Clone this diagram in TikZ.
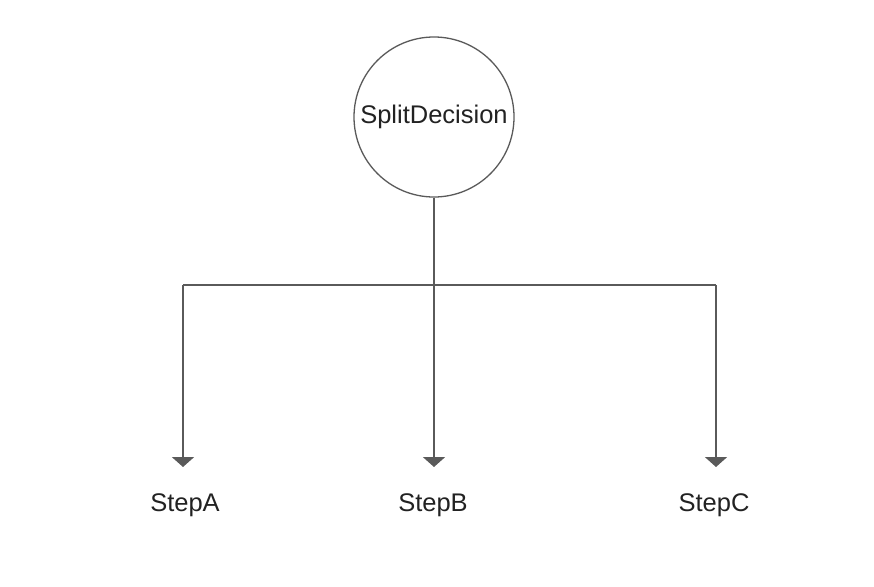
\documentclass[tikz,border=0pt]{standalone}
\usepackage{fontspec}
\setmainfont{Liberation Sans}
\usetikzlibrary{arrows.meta}
\definecolor{linec}{HTML}{5A5A5A}
\definecolor{textc}{HTML}{222222}
\begin{document}
\begin{tikzpicture}[x=1pt,y=-1pt,
  decision/.style={circle,draw=linec,line width=1.3pt,minimum size=160pt,inner sep=0pt,
    font=\fontsize{25.5}{28}\selectfont,text=textc},
  steplabel/.style={font=\fontsize{25.5}{28}\selectfont,text=textc,inner sep=0pt},
  conn/.style={draw=linec,line width=2pt},
  arr/.style={conn,-{Triangle[width=22pt,length=10pt]}}]
\useasboundingbox (0,0) rectangle (874,586);
\node[decision] (sd) at (434,117) {SplitDecision};
\coordinate (j) at (434,285);
\coordinate (ja) at (183,285);
\coordinate (jc) at (716,285);
\coordinate (ea) at (183,467);
\coordinate (eb) at (434,467);
\coordinate (ec) at (716,467);
\node[steplabel] (a) at (185,505) {StepA};
\node[steplabel] (b) at (433,505) {StepB};
\node[steplabel] (c) at (714,505) {StepC};
\draw[conn] (sd.south) -- (j);
\draw[conn] (ja) -- (jc);
\draw[arr] (ja) -- (ea);
\draw[arr] (j) -- (eb);
\draw[arr] (jc) -- (ec);
\end{tikzpicture}
\end{document}
